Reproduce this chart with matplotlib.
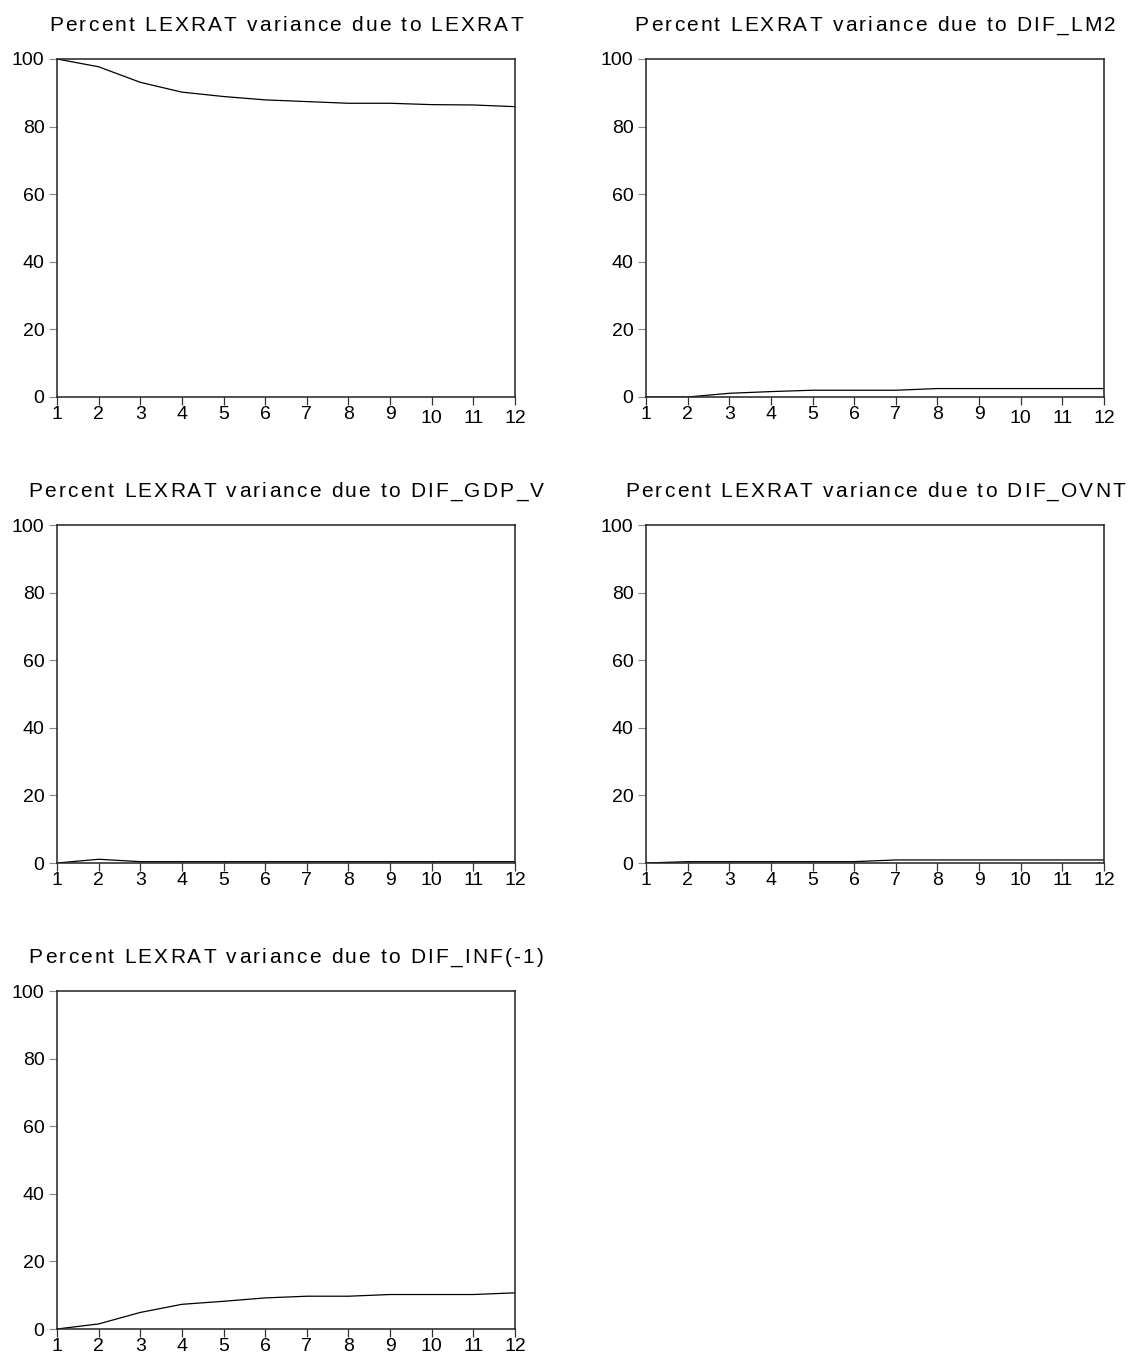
import matplotlib
matplotlib.use("Agg")
import matplotlib.pyplot as plt
from matplotlib.font_manager import FontProperties
from matplotlib.textpath import TextToPath
from matplotlib.transforms import ScaledTranslation

plt.rcParams["font.family"] = "Liberation Sans"

# forecast horizons and variance decomposition of LEXRAT (percent)
horizon = list(range(1, 13))
lexrat = [100.0, 97.7, 93.1, 90.2, 88.9, 87.9, 87.4, 86.9, 86.9, 86.5, 86.4, 85.9]
dif_lm2 = [0.0, 0.0, 1.1, 1.6, 2.0, 2.0, 2.0, 2.5, 2.5, 2.5, 2.5, 2.5]
dif_gdp_v = [0.0, 1.1, 0.4, 0.4, 0.4, 0.4, 0.4, 0.4, 0.4, 0.4, 0.4, 0.4]
dif_ovnt = [0.0, 0.4, 0.4, 0.4, 0.4, 0.4, 0.9, 0.9, 0.9, 0.9, 0.9, 0.9]
dif_inf_1 = [0.0, 1.5, 4.9, 7.3, 8.2, 9.2, 9.7, 9.7, 10.2, 10.2, 10.2, 10.7]

titles = [
    "Percent LEXRAT variance due to LEXRAT",
    "Percent LEXRAT variance due to DIF_LM2",
    "Percent LEXRAT variance due to DIF_GDP_V",
    "Percent LEXRAT variance due to DIF_OVNT",
    "Percent LEXRAT variance due to DIF_INF(-1)",
]
series = [lexrat, dif_lm2, dif_gdp_v, dif_ovnt, dif_inf_1]
y_ticks = [0, 20, 40, 60, 80, 100]

W, H = 1133, 1362
fig = plt.figure(figsize=(W / 100, H / 100), dpi=100)

# panel boxes in pixels: left, top, width, height
col_left = [57, 646]
row_top = [59, 525, 991]
box_w, box_h = 458, 338

title_prop = FontProperties(family="Liberation Sans", size=15)
ttp = TextToPath()


def text_width(s, prop):
    w_pad = ttp.get_text_width_height_descent("x" + s + "x", prop, ismath=False)[0]
    w_xx = ttp.get_text_width_height_descent("xx", prop, ismath=False)[0]
    return w_pad - w_xx


def spaced_title(ax, text, track=1.6, rise=20):
    # letter-spaced heading centred over the panel
    widths = [text_width(ch, title_prop) for ch in text]
    total = sum(widths) + track * (len(text) - 1)
    x = -total / 2
    for ch, w in zip(text, widths):
        ax.annotate(ch, xy=(0.5, 1), xycoords="axes fraction",
                    xytext=(x, rise), textcoords="offset points",
                    fontproperties=title_prop, ha="left", va="baseline")
        x += w + track


for i, (title, vals) in enumerate(zip(titles, series)):
    row, col = divmod(i, 2)
    left = col_left[col]
    top = row_top[row]
    ax = fig.add_axes([left / W, 1 - (top + box_h) / H, box_w / W, box_h / H])
    ax.plot(horizon, vals, color="black", lw=0.9)
    ax.set_xlim(1, 12)
    ax.set_ylim(0, 100)
    ax.set_xticks(horizon)
    ax.set_yticks(y_ticks)
    ax.tick_params(axis="x", direction="out", length=6, width=0.9,
                   color="#333333", pad=0.5, labelsize=14)
    ax.tick_params(axis="y", direction="out", length=6, width=0.8,
                   color="#888888", pad=3, labelsize=14)
    for sp in ax.spines.values():
        sp.set_linewidth(1.1)
        sp.set_color("#222222")
    if row == 0:
        # two-digit horizons sit a little lower on the top row
        for lbl in ax.get_xticklabels()[9:]:
            lbl.set_transform(lbl.get_transform() +
                              ScaledTranslation(0, -3 / 72, fig.dpi_scale_trans))
    spaced_title(ax, title)

fig.savefig("out.png", dpi=100, facecolor="white")
